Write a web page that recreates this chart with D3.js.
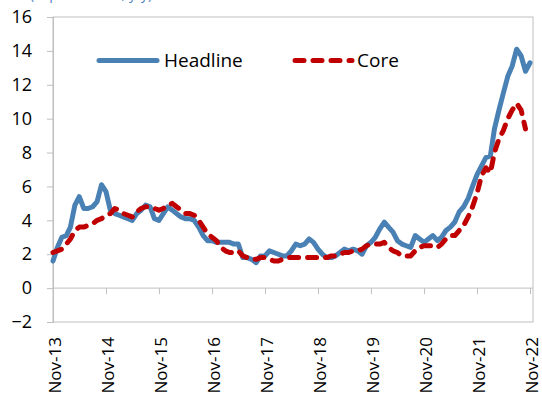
<!DOCTYPE html>
<html>
<head>
<meta charset="utf-8">
<script src="https://cdn.jsdelivr.net/npm/d3@7"></script>
<style>
  html, body { margin: 0; padding: 0; background: #fff; }
  svg { display: block; font-family: "Open Sans", "Noto Sans", sans-serif; }
</style>
</head>
<body>
<div id="chart"></div>
<script>
// ---- Data (monthly, y/y %, Nov-13 .. Nov-22) ----
const startMonth = new Date(2013, 10, 1);   // Nov-13
const seriesNames = ["Headline", "Core"];
const headline = [
  1.6, 2.4, 3.0, 3.1, 3.6, 4.9, 5.4, 4.7, 4.7, 4.8, 5.1, 6.1,
  5.7, 4.6, 4.4, 4.3, 4.2, 4.1, 4.0, 4.4, 4.6, 4.9, 4.8, 4.1,
  4.0, 4.4, 4.8, 4.6, 4.4, 4.2, 4.1, 4.1, 4.0, 3.6, 3.1, 2.8,
  2.8, 2.7, 2.7, 2.7, 2.7, 2.6, 2.6, 1.8, 1.8, 1.7, 1.5, 1.9,
  1.9, 2.2, 2.1, 2.0, 1.9, 1.9, 2.2, 2.6, 2.5, 2.6, 2.9, 2.7,
  2.3, 2.0, 1.8, 1.8, 1.9, 2.1, 2.3, 2.2, 2.3, 2.2, 2.0, 2.5,
  2.7, 3.0, 3.5, 3.9, 3.6, 3.3, 2.8, 2.6, 2.5, 2.4, 3.1, 2.9,
  2.7, 2.9, 3.1, 2.8, 3.0, 3.4, 3.6, 3.9, 4.5, 4.8, 5.3, 6.0,
  6.7, 7.2, 7.7, 7.8, 9.4, 10.5, 11.5, 12.5, 13.1, 14.1, 13.7, 12.8,
  13.3
];
const core = [
  2.1, 2.2, 2.3, 2.6, 2.9, 3.4, 3.6, 3.6, 3.7, 3.8, 4.0, 4.1,
  4.3, 4.4, 4.7, 4.6, 4.4, 4.3, 4.2, 4.5, 4.7, 4.8, 4.8, 4.7,
  4.6, 4.7, 4.9, 5.0, 4.8, 4.6, 4.4, 4.4, 4.3, 4.0, 3.6, 3.2,
  3.0, 2.8, 2.4, 2.2, 2.1, 2.1, 2.2, 1.9, 1.8, 1.7, 1.7, 1.8,
  1.8, 1.7, 1.6, 1.6, 1.7, 1.8, 1.8, 1.8, 1.8, 1.8, 1.8, 1.8,
  1.8, 1.8, 1.8, 1.9, 1.9, 2.0, 2.1, 2.1, 2.2, 2.2, 2.3, 2.5,
  2.6, 2.6, 2.6, 2.7, 2.4, 2.2, 2.1, 1.9, 1.9, 1.9, 2.2, 2.4,
  2.5, 2.5, 2.5, 2.4, 2.6, 2.9, 3.1, 3.1, 3.4, 3.7, 4.2, 4.8,
  5.6, 6.6, 7.1, 6.8, 8.0, 8.8, 9.3, 10.0, 10.5, 10.9, 10.5, 9.4
];
const yTicks = [-2, 0, 2, 4, 6, 8, 10, 12, 14, 16];
const xTickLabels = ["Nov-13","Nov-14","Nov-15","Nov-16","Nov-17","Nov-18","Nov-19","Nov-20","Nov-21","Nov-22"];
const titleText = "(% per annum, y/y)";

// ---- Layout ----
const W = 542, H = 396;
const mLeft = 53, mRight = 533, mTop = 17, mBottom = 322;
const months = d3.timeMonth.range(startMonth, d3.timeMonth.offset(startMonth, headline.length));
const tickDates = xTickLabels.map((_, i) => d3.timeMonth.offset(startMonth, 12 * i));

const x = d3.scaleTime().domain([months[0], months[months.length - 1]]).range([mLeft, 530]);
const y = d3.scaleLinear().domain([-2, 16]).range([mBottom, mTop]);

const svg = d3.select("#chart").append("svg").attr("width", W).attr("height", H);

// partially visible title (cut off at the top, as in the reference)
svg.append("text").attr("x", 30).attr("y", -1.5)
  .attr("font-size", 14).attr("fill", "#4F81BD").text(titleText);

// plot border
svg.append("rect").attr("x", mLeft).attr("y", y(16)).attr("width", mRight - mLeft).attr("height", y(-2) - y(16))
  .attr("fill", "none").attr("stroke", "#BFBFBF").attr("stroke-width", 1);

// y axis
const yAxis = svg.append("g").attr("transform", `translate(${mLeft},0)`)
  .call(d3.axisLeft(y).tickValues(yTicks).tickSize(6).tickPadding(15).tickFormat(d3.format("d")));
yAxis.select(".domain").attr("stroke", "#BFBFBF");
yAxis.selectAll(".tick line").attr("stroke", "#BFBFBF");
yAxis.selectAll(".tick text").attr("font-size", 18).attr("fill", "#000")
  .attr("font-family", "'Open Sans', sans-serif");

// x axis along zero line
const xAxis = svg.append("g").attr("transform", `translate(0,${y(0)})`)
  .call(d3.axisBottom(x).tickValues(tickDates).tickSize(6).tickFormat(""));
xAxis.select(".domain").attr("stroke", "#BFBFBF").attr("d", `M${mLeft},0H${mRight}`);
xAxis.selectAll(".tick line").attr("stroke", "#BFBFBF");

// rotated x labels below the plot
svg.append("g").selectAll("text").data(tickDates).join("text")
  .attr("transform", (d) => `translate(${x(d) + 2},${337}) rotate(-90)`)
  .attr("text-anchor", "end").attr("dy", "0.35em")
  .attr("font-size", 17).attr("fill", "#000")
  .text((d, i) => xTickLabels[i]);

// lines
const line = d3.line().x((d, i) => x(months[i])).y((d) => y(d)).curve(d3.curveLinear);
svg.append("path").datum(headline).attr("d", line)
  .attr("fill", "none").attr("stroke", "#4A81B4").attr("stroke-width", 5)
  .attr("stroke-linejoin", "round").attr("stroke-linecap", "round");
svg.append("path").datum(core).attr("d", line)
  .attr("fill", "none").attr("stroke", "#C00000").attr("stroke-width", 5)
  .attr("stroke-dasharray", "9,9").attr("stroke-linejoin", "round").attr("stroke-linecap", "round");

// legend
const legend = svg.append("g");
legend.append("line").attr("x1", 99).attr("x2", 157).attr("y1", 60.5).attr("y2", 60.5)
  .attr("stroke", "#4A81B4").attr("stroke-width", 5).attr("stroke-linecap", "round");
legend.append("text").attr("x", 164).attr("y", 60.5).attr("dy", "0.35em")
  .attr("font-size", 19).attr("fill", "#000").text(seriesNames[0]);
legend.append("line").attr("x1", 295).attr("x2", 352).attr("y1", 60.5).attr("y2", 60.5)
  .attr("stroke", "#C00000").attr("stroke-width", 5).attr("stroke-linecap", "round")
  .attr("stroke-dasharray", "9,9");
legend.append("text").attr("x", 357).attr("y", 60.5).attr("dy", "0.35em")
  .attr("font-size", 19).attr("fill", "#000").text(seriesNames[1]);
</script>
</body>
</html>
